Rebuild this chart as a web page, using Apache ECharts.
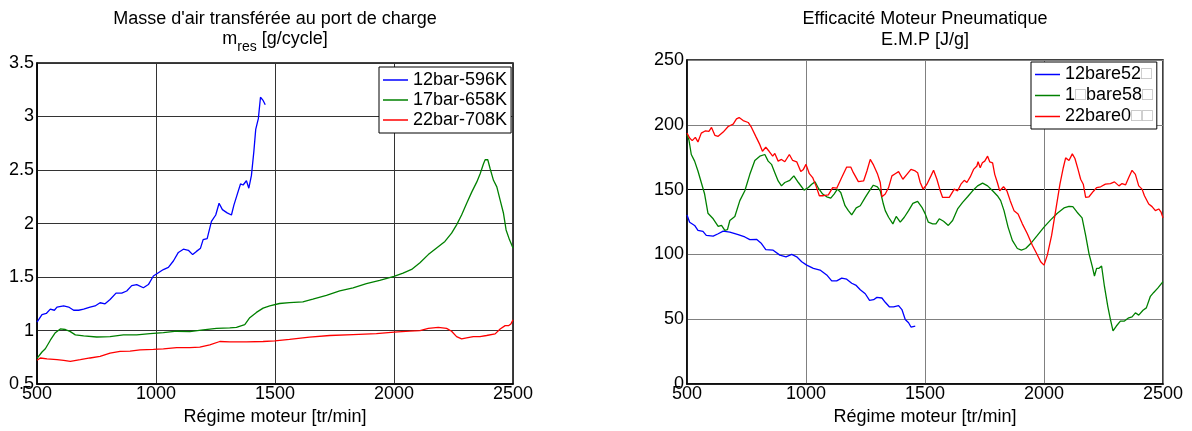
<!DOCTYPE html>
<html>
<head>
<meta charset="utf-8">
<script src="https://cdn.jsdelivr.net/npm/echarts@6/dist/echarts.min.js"></script>
<style>
html, body { margin: 0; padding: 0; background: #fff; }
#chart { width: 1192px; height: 431px; }
</style>
</head>
<body>
<div id="chart"></div>
<script>
// axes
var rpmTicks = [500, 1000, 1500, 2000, 2500];
var legendMres = ['12bar-596K', '17bar-658K', '22bar-708K'];
var legendEmp = ['12bare52□', '1□bare58□', '22bare0□□'];

// masse d'air transferee [g/cycle], points [regime, valeur]
var mres12 = [[500,1.08],[521,1.15],[539,1.16],[556,1.20],[573,1.19],[584,1.22],[612,1.23],[633,1.22],[654,1.19],[675,1.19],[696,1.20],[723,1.22],[744,1.23],[765,1.26],[786,1.25],[807,1.29],[832,1.35],[856,1.35],[877,1.37],[898,1.42],[919,1.43],[947,1.40],[968,1.43],[989,1.51],[1010,1.54],[1031,1.57],[1052,1.59],[1073,1.65],[1094,1.73],[1115,1.76],[1136,1.75],[1154,1.71],[1170,1.74],[1187,1.77],[1198,1.85],[1215,1.86],[1233,2.02],[1251,2.08],[1265,2.19],[1279,2.13],[1299,2.10],[1317,2.08],[1327,2.17],[1341,2.27],[1355,2.37],[1366,2.36],[1380,2.40],[1390,2.33],[1401,2.45],[1411,2.67],[1419,2.88],[1430,2.98],[1439,3.18],[1450,3.15],[1459,3.11]];
var mres17 = [[500,0.74],[521,0.80],[535,0.83],[556,0.91],[577,0.98],[598,1.015],[619,1.01],[640,0.99],[661,0.96],[696,0.95],[751,0.94],[807,0.944],[863,0.96],[919,0.96],[975,0.972],[1031,0.98],[1087,0.994],[1142,0.99],[1198,1.006],[1254,1.02],[1310,1.025],[1338,1.03],[1373,1.056],[1394,1.12],[1422,1.17],[1450,1.21],[1478,1.23],[1519,1.253],[1561,1.262],[1617,1.268],[1659,1.293],[1716,1.33],[1772,1.37],[1828,1.40],[1884,1.438],[1940,1.469],[2000,1.506],[2038,1.537],[2074,1.571],[2109,1.633],[2144,1.71],[2179,1.772],[2214,1.833],[2242,1.91],[2263,1.988],[2284,2.08],[2305,2.188],[2327,2.296],[2348,2.389],[2362,2.466],[2376,2.559],[2383,2.596],[2394,2.596],[2404,2.512],[2418,2.404],[2432,2.343],[2446,2.219],[2460,2.096],[2471,1.94],[2485,1.85],[2500,1.772]];
var mres22 = [[500,0.722],[514,0.744],[542,0.735],[584,0.728],[612,0.722],[640,0.713],[682,0.728],[723,0.744],[765,0.759],[807,0.79],[849,0.806],[891,0.809],[933,0.82],[989,0.824],[1031,0.83],[1087,0.84],[1142,0.84],[1184,0.846],[1226,0.867],[1268,0.898],[1310,0.895],[1380,0.895],[1450,0.898],[1499,0.904],[1561,0.917],[1645,0.938],[1730,0.954],[1828,0.963],[1926,0.972],[2000,0.985],[2066,0.994],[2109,1.0],[2144,1.02],[2186,1.03],[2221,1.02],[2242,0.994],[2263,0.944],[2284,0.923],[2305,0.932],[2333,0.944],[2361,0.944],[2389,0.954],[2425,0.969],[2446,1.015],[2467,1.046],[2481,1.046],[2491,1.062],[2500,1.10]];

// efficacite moteur pneumatique [J/g]
var emp12 = [[500,130.5],[511,124.9],[532,122.4],[546,118.6],[567,117.8],[581,114.7],[610,114.2],[631,116],[652,118],[680,117.3],[715,115.3],[743,113.5],[764,111.4],[792,111.7],[813,108.4],[831,103.8],[862,103.3],[890,99.5],[916,98.2],[940,100],[961,98.2],[982,94.4],[1003,91.8],[1031,89.3],[1059,88],[1087,84.2],[1108,79.6],[1129,79.6],[1150,81.7],[1171,80.9],[1192,77.8],[1211,76.1],[1228,72.8],[1249,69.7],[1267,64.6],[1284,65.1],[1298,66.9],[1319,66.4],[1333,63.1],[1351,59.5],[1368,59.5],[1389,60.5],[1403,57.5],[1417,49.8],[1431,47.3],[1441,44],[1459,44.8]];
var emp17 = [[500,192.4],[508,188.5],[518,177.1],[532,172],[546,164.4],[560,155.5],[574,146.6],[588,131.8],[610,127.5],[631,121.6],[645,122.4],[659,118.6],[670,119.1],[680,126.2],[701,129.3],[722,141.5],[743,149.1],[764,161.8],[785,172.5],[806,175.8],[827,177.1],[841,172],[855,169.5],[869,163.1],[883,156.7],[897,152.9],[911,155.5],[932,157.2],[949,160.6],[968,155.5],[992,149.6],[1010,151.6],[1024,154.2],[1038,156],[1052,151.1],[1070,146.6],[1087,144.5],[1104,143.5],[1118,146.6],[1132,150.4],[1146,147.8],[1164,137.6],[1178,133.8],[1192,130.5],[1211,135.9],[1228,137.6],[1249,144],[1265,148.6],[1283,153.4],[1300,152.2],[1312,149.1],[1325,138.9],[1333,133.8],[1347,128.7],[1365,123.6],[1379,129.3],[1396,124.9],[1413,128.7],[1431,133.8],[1449,139.4],[1469,141],[1487,136.4],[1501,131.3],[1514,124.9],[1532,123.6],[1546,123.6],[1560,127.5],[1578,125.6],[1598,122.4],[1616,126.2],[1637,135.1],[1658,140.2],[1679,144.5],[1700,149.1],[1721,152.9],[1742,155],[1763,152.9],[1784,149.1],[1804,145.3],[1818,141.5],[1832,133.8],[1849,121.1],[1867,110.9],[1888,104.6],[1905,103.3],[1923,104.6],[1944,108.4],[1972,114.7],[2000,121.1],[2028,126.7],[2056,131.8],[2084,135.9],[2105,137.1],[2121,136.9],[2139,132.6],[2160,128.2],[2175,114.7],[2189,100.7],[2203,90.6],[2212,83.4],[2221,89.3],[2231,89.3],[2242,91.1],[2254,75.3],[2268,60],[2279,49.9],[2290,41],[2304,44.8],[2321,48.6],[2338,48.6],[2356,51.1],[2370,51.9],[2384,55],[2398,53.2],[2416,57],[2430,58.8],[2447,67.7],[2461,70.7],[2478,74],[2500,79.1]];
var emp22 = [[500,193.6],[511,189.8],[522,187.8],[535,190.3],[546,186.8],[560,193.6],[578,195.4],[592,194.9],[603,198],[617,191.9],[631,191.1],[652,194.4],[673,198.7],[694,200.5],[708,204.6],[719,205.6],[736,203.3],[757,201.8],[771,198],[789,191.1],[806,184.7],[817,179.6],[831,182.7],[845,179.6],[860,175.8],[869,177.9],[883,172],[897,173.3],[911,171.5],[930,177.1],[944,172.5],[961,171.5],[978,163.9],[989,165.6],[1000,169.5],[1014,162.3],[1028,159.3],[1042,152.9],[1056,145.3],[1073,145.3],[1094,146],[1112,151.6],[1129,151.1],[1150,159.3],[1171,167.4],[1188,167.4],[1199,163.1],[1220,156.2],[1242,156.7],[1256,164.4],[1270,173.3],[1284,168.9],[1301,161.8],[1312,155.5],[1319,144.5],[1333,146.6],[1347,151.6],[1361,160.6],[1375,162.3],[1389,163.9],[1407,158],[1424,161.8],[1441,165.6],[1459,164.4],[1469,163.1],[1480,155.5],[1492,150.4],[1501,152.4],[1508,154.2],[1525,160.6],[1536,164.9],[1550,158],[1564,149.1],[1574,144],[1602,144],[1623,150.4],[1637,149.1],[1651,154.2],[1665,157.2],[1676,155.5],[1690,159.8],[1704,165.6],[1718,168.2],[1723,171.5],[1732,166.9],[1741,170.7],[1751,172],[1763,175.8],[1772,171.5],[1784,170.7],[1793,161.8],[1804,155.5],[1814,149.1],[1830,152.2],[1844,149.1],[1858,141.5],[1874,133.8],[1891,131.3],[1909,123.6],[1930,116],[1951,107.1],[1969,100.7],[1986,94.4],[2000,91.8],[2014,99.5],[2032,114.7],[2049,133.8],[2067,154.2],[2081,166.9],[2091,174.5],[2105,172.5],[2119,177.6],[2130,174],[2143,165.6],[2154,158],[2165,154.2],[2175,144],[2189,144.5],[2207,148.6],[2221,151.6],[2238,152.2],[2258,154.2],[2279,154.7],[2296,156],[2315,152.9],[2328,154.7],[2343,153.7],[2357,159.8],[2370,164.9],[2384,161.8],[2398,152.9],[2412,150.4],[2422,145.3],[2440,138.9],[2454,136.9],[2468,133.8],[2482,135.1],[2492,132.6],[2500,128.2]];

var colors = ['#0000ff', '#008000', '#ff0000'];
var fontName = '"Liberation Sans", Arial, sans-serif';
var fs = 18;

var chart = echarts.init(document.getElementById('chart'));

function xAxisFor(gridIndex, splitColor) {
    return {
        type: 'value', gridIndex: gridIndex,
        min: rpmTicks[0], max: rpmTicks[rpmTicks.length - 1], interval: 500,
        name: 'Régime moteur [tr/min]', nameLocation: 'middle', nameGap: 19,
        nameTextStyle: { color: '#000', fontSize: fs, fontFamily: fontName },
        axisLine: { lineStyle: { color: '#000', width: 1.5 } },
        axisTick: { show: false },
        axisLabel: { color: '#000', fontSize: fs, fontFamily: fontName, margin: 1,
            formatter: function (v) { return String(v); } },
        splitLine: { show: true, lineStyle: { color: splitColor, width: 1 } }
    };
}

function lineSeries(name, data, idx, axisIdx) {
    return {
        name: name, type: 'line', data: data,
        xAxisIndex: axisIdx, yAxisIndex: axisIdx,
        showSymbol: false, symbol: 'none', smooth: false, animation: false,
        lineStyle: { color: colors[idx], width: 1.3 },
        itemStyle: { color: colors[idx] }
    };
}

var legendBase = {
    orient: 'vertical', icon: 'rect', itemWidth: 25, itemHeight: 1.5,
    itemGap: 0, borderColor: '#000', borderWidth: 1, backgroundColor: '#fff',
    borderRadius: 0, selectedMode: false,
    textStyle: {
        color: '#000', fontSize: fs, fontFamily: fontName, lineHeight: 20,
        rich: { b: { color: '#bbb', fontSize: fs, fontFamily: fontName, lineHeight: 20 } }
    }
};

var option = {
    animation: false,
    grid: [
        { left: 37, top: 63, width: 476, height: 325, show: true, borderColor: '#000', borderWidth: 1.5 },
        { left: 687, top: 60, width: 476, height: 327, show: true, borderColor: '#000', borderWidth: 1.5 }
    ],
    xAxis: [xAxisFor(0, '#333'), xAxisFor(1, '#808080')],
    yAxis: [
        {
            type: 'value', gridIndex: 0, min: 0.5, max: 3.5, interval: 0.5,
            axisLine: { show: true, lineStyle: { color: '#000', width: 1.5 } },
            axisTick: { show: false },
            axisLabel: { color: '#000', fontSize: fs, fontFamily: fontName, margin: 3 },
            splitLine: { show: true, lineStyle: { color: '#333', width: 1 } }
        },
        {
            type: 'value', gridIndex: 1, min: 0, max: 250, interval: 50,
            axisLine: { show: true, lineStyle: { color: '#000', width: 1.5 } },
            axisTick: { show: false },
            axisLabel: { color: '#000', fontSize: fs, fontFamily: fontName, margin: 3 },
            splitLine: { show: true, lineStyle: { color: ['#808080', '#808080', '#808080', '#000', '#808080', '#808080'], width: 1 } }
        }
    ],
    legend: [
        Object.assign({}, legendBase, { data: legendMres, left: 379, top: 67, padding: [3, 4, 3, 4] }),
        Object.assign({}, legendBase, {
            data: legendEmp, left: 1031, top: 62, padding: [2, 4, 2, 4],
            textStyle: Object.assign({}, legendBase.textStyle, { lineHeight: 21 }),
            formatter: function (name) { return name.replace(/□/g, '{b|□}'); }
        })
    ],
    graphic: [
        { type: 'text', x: 275, y: 19, style: { text: "Masse d'air transférée au port de charge", font: fs + 'px ' + fontName, fill: '#000', align: 'center', verticalAlign: 'middle' } },
        { type: 'text', x: 275, y: 42, style: {
            text: '{m|m}{s|res}{m| [g/cycle]}', align: 'center', verticalAlign: 'middle', fill: '#000',
            rich: {
                m: { fontSize: fs, fontFamily: fontName, lineHeight: 24, verticalAlign: 'top' },
                s: { fontSize: 14, fontFamily: fontName, lineHeight: 24, verticalAlign: 'bottom' }
            }
        } },
        { type: 'text', x: 925, y: 19, style: { text: 'Efficacité Moteur Pneumatique', font: fs + 'px ' + fontName, fill: '#000', align: 'center', verticalAlign: 'middle' } },
        { type: 'text', x: 925, y: 40, style: { text: 'E.M.P [J/g]', font: fs + 'px ' + fontName, fill: '#000', align: 'center', verticalAlign: 'middle' } }
    ],
    series: [
        lineSeries(legendMres[0], mres12, 0, 0),
        lineSeries(legendMres[1], mres17, 1, 0),
        lineSeries(legendMres[2], mres22, 2, 0),
        lineSeries(legendEmp[0], emp12, 0, 1),
        lineSeries(legendEmp[1], emp17, 1, 1),
        lineSeries(legendEmp[2], emp22, 2, 1)
    ]
};

chart.setOption(option);
</script>
</body>
</html>
